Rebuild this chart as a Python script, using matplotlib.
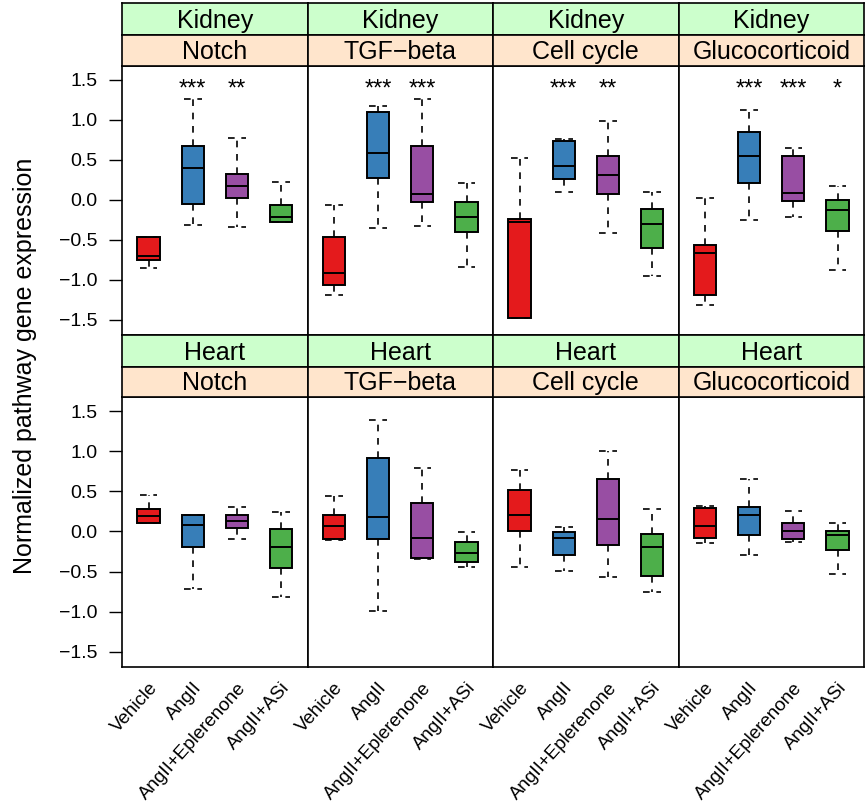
import matplotlib
matplotlib.use("Agg")
import matplotlib.pyplot as plt
from matplotlib.transforms import ScaledTranslation

plt.rcParams['font.family'] = ['Liberation Sans', 'DejaVu Sans']

tissues = ["Kidney", "Heart"]
pathways = ["Notch", "TGF\u2212beta", "Cell cycle", "Glucocorticoid"]
groups = ["Vehicle", "AngII", "AngII+Eplerenone", "AngII+ASi"]
colors = ["#E41A1C", "#377EB8", "#984EA3", "#4DAF4A"]

# box stats per group: (lower whisker, q1, median, q3, upper whisker)
kidney_notch = [(-0.85, -0.75, -0.70, -0.47, -0.47),
                (-0.31, -0.05, 0.40, 0.68, 1.26),
                (-0.34, 0.03, 0.18, 0.33, 0.77),
                (-0.28, -0.28, -0.21, -0.06, 0.23)]
kidney_tgf = [(-1.19, -1.07, -0.91, -0.46, -0.06),
              (-0.35, 0.27, 0.59, 1.10, 1.17),
              (-0.33, -0.03, 0.08, 0.68, 1.26),
              (-0.84, -0.40, -0.21, -0.03, 0.21)]
kidney_cycle = [(-1.48, -1.48, -0.28, -0.24, 0.52),
                (0.10, 0.26, 0.43, 0.74, 0.76),
                (-0.42, 0.07, 0.31, 0.55, 0.99),
                (-0.95, -0.60, -0.30, -0.11, 0.10)]
kidney_gluco = [(-1.32, -1.19, -0.66, -0.57, 0.02),
                (-0.25, 0.21, 0.55, 0.85, 1.13),
                (-0.21, -0.02, 0.09, 0.55, 0.65),
                (-0.88, -0.39, -0.13, 0.00, 0.17)]
heart_notch = [(0.10, 0.10, 0.19, 0.275, 0.45),
               (-0.72, -0.19, 0.08, 0.21, 0.21),
               (-0.10, 0.04, 0.125, 0.21, 0.31),
               (-0.82, -0.46, -0.20, 0.03, 0.24)]
heart_tgf = [(-0.11, -0.09, 0.07, 0.20, 0.44),
             (-0.99, -0.09, 0.175, 0.91, 1.39),
             (-0.34, -0.33, -0.08, 0.35, 0.79),
             (-0.44, -0.38, -0.27, -0.13, -0.01)]
heart_cycle = [(-0.44, 0.00, 0.21, 0.51, 0.77),
               (-0.49, -0.29, -0.08, -0.01, 0.05),
               (-0.57, -0.17, 0.15, 0.65, 1.00),
               (-0.75, -0.55, -0.20, -0.03, 0.28)]
heart_gluco = [(-0.14, -0.08, 0.07, 0.29, 0.32),
               (-0.30, -0.04, 0.20, 0.30, 0.65),
               (-0.13, -0.09, 0.01, 0.11, 0.26),
               (-0.53, -0.23, -0.04, 0.01, 0.10)]

kidney_stars = [["", "***", "**", ""],
                ["", "***", "***", ""],
                ["", "***", "**", ""],
                ["", "***", "***", "*"]]
heart_stars = [["", "", "", ""]] * 4

data = {"Kidney": [kidney_notch, kidney_tgf, kidney_cycle, kidney_gluco],
        "Heart": [heart_notch, heart_tgf, heart_cycle, heart_gluco]}
stars = {"Kidney": kidney_stars, "Heart": heart_stars}

W, H = 865, 811
fig = plt.figure(figsize=(W / 100, H / 100), dpi=100)

left0, pw = 122, 185.5
# (green strip top, orange strip top, plot top, plot bottom) in pixels
rows = [(3, 35, 66, 335), (335, 367, 397, 667)]


def frac(x0, y0, x1, y1):
    return [x0 / W, 1 - y1 / H, (x1 - x0) / W, (y1 - y0) / H]


for r, tissue in enumerate(tissues):
    g_top, o_top, p_top, p_bot = rows[r]
    for c, pathway in enumerate(pathways):
        x0 = left0 + c * pw
        x1 = x0 + pw
        ax = fig.add_axes(frac(x0, p_top, x1, p_bot))
        stats = []
        for (lo, q1, med, q3, hi), name in zip(data[tissue][c], groups):
            stats.append(dict(whislo=lo, q1=q1, med=med, q3=q3, whishi=hi, label=name))
        bp = ax.bxp(stats, positions=[1, 2, 3, 4], widths=0.5, capwidths=0.4,
                    patch_artist=True, showfliers=False,
                    boxprops=dict(edgecolor="black", linewidth=1.4),
                    whiskerprops=dict(color="black", linewidth=1.2, linestyle=(0, (4, 4))),
                    capprops=dict(color="black", linewidth=1.2, linestyle=(0, (4, 4))),
                    medianprops=dict(color="black", linewidth=1.4))
        for patch, col in zip(bp["boxes"], colors):
            patch.set_facecolor(col)
        for i, s in enumerate(stars[tissue][c]):
            if s:
                ax.text(i + 1, 1.31, s, ha="center", va="baseline", fontsize=17)
        ax.set_xlim(0.4, 4.6)
        ax.set_ylim(-1.69, 1.675)
        ax.set_yticks([-1.5, -1.0, -0.5, 0.0, 0.5, 1.0, 1.5])
        ax.tick_params(axis="y", length=9.5, width=1, labelsize=14, pad=8)
        if c > 0:
            ax.tick_params(axis="y", left=False, labelleft=False)
        if r == 1:
            ax.set_xticks([1, 2, 3, 4])
            labels = ax.set_xticklabels(groups, rotation=48, ha="right", va="top",
                                        rotation_mode="anchor", fontsize=13.5)
            shift = ScaledTranslation(6 / 72, 0, fig.dpi_scale_trans)
            for lab in labels:
                lab.set_transform(lab.get_transform() + shift)
            ax.tick_params(axis="x", length=0, pad=9)
        else:
            ax.set_xticks([])
        for sp in ax.spines.values():
            sp.set_linewidth(1.2)

        for (t0, t1, txt, fc) in [(g_top, o_top, tissue, "#CCFFCC"),
                                  (o_top, p_top, pathway, "#FFE5CC")]:
            sax = fig.add_axes(frac(x0, t0, x1, t1))
            sax.set_facecolor(fc)
            sax.set_xticks([])
            sax.set_yticks([])
            for sp in sax.spines.values():
                sp.set_linewidth(1.2)
            sax.text(0.5, 0.45, txt, ha="center", va="center", fontsize=18,
                     transform=sax.transAxes)

fig.text(25 / W, 1 - 366 / H, "Normalized pathway gene expression", rotation=90,
         ha="center", va="center", fontsize=18)

fig.savefig("out.png", dpi=100)
